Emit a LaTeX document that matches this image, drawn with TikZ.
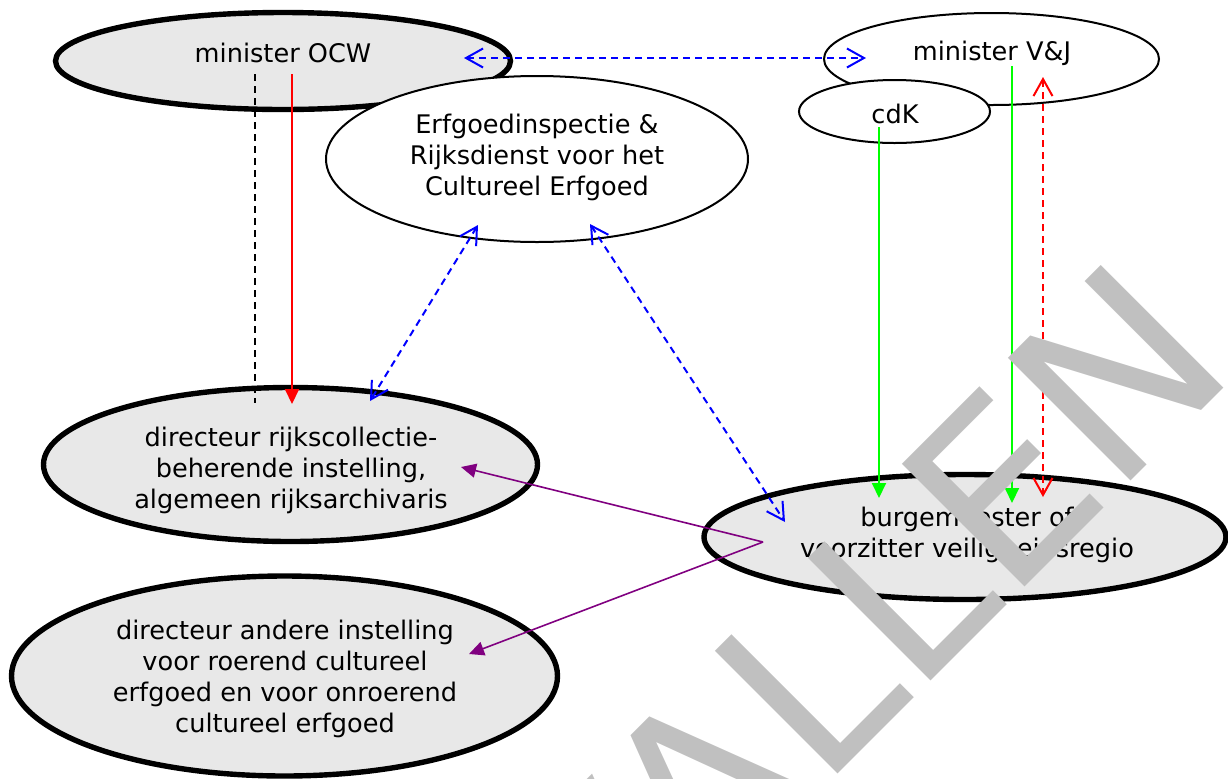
\documentclass[tikz,border=0pt]{standalone}
\usepackage{fontspec}
\setmainfont{DejaVu Sans}
\usetikzlibrary{arrows.meta,shapes.geometric}
\definecolor{ovalgrey}{RGB}{232,232,232}
\definecolor{stampgrey}{RGB}{192,192,192}
\definecolor{linkpurple}{RGB}{128,0,128}

\begin{document}
\begin{tikzpicture}[x=0.5pt,y=-0.5pt,
    oval/.style={ellipse,draw,inner sep=0pt},
    thickoval/.style={oval,line width=2.7pt,fill=ovalgrey},
    thinoval/.style={oval,line width=1pt,fill=white},
    lbl/.style={align=center,inner sep=0pt,font=\fontsize{12.8}{15.5}\selectfont},
    dashy/.style={dash pattern=on 3.5pt off 2.5pt},
    twoway/.style={{Straight Barb[length=8.5pt,width=9.5pt]}-{Straight Barb[length=8.5pt,width=9.5pt]},line width=1pt,dashy},
    oneway/.style={-{Triangle[length=7.5pt,width=7pt]},line width=1pt}]

      \useasboundingbox (0,0) rectangle (1228,778);

      \node[thickoval,minimum width=227.5pt,minimum height=48.5pt] (ocw) at (283,61) {};
      \node[thinoval,minimum width=211pt,minimum height=83pt] (erfgoed) at (537,159) {};
      \node[thinoval,minimum width=167.5pt,minimum height=46pt] (vj) at (991.5,59) {};
      \node[thinoval,minimum width=95.5pt,minimum height=31.5pt] (cdk) at (894.5,111.5) {};
      \node[thickoval,minimum width=247pt,minimum height=77pt] (rijks) at (290.5,464.5) {};
      \node[thickoval,minimum width=261pt,minimum height=62.5pt] (burg) at (965,537) {};
      \node[thickoval,minimum width=273pt,minimum height=100pt] (andere) at (284.5,676) {};

      \node[lbl] (ocwtext) at (283,52.5) {minister OCW};
      \node[lbl] (vjtext) at (992,53) {minister V\&J};
      \node[lbl] (cdktext) at (895,113.5) {cdK};
      \node[lbl] (erfgoedtext) at (537,157) {Erfgoedinspectie \&\\Rijksdienst voor het\\Cultureel Erfgoed};
      \node[lbl] (rijkstext) at (291,470) {directeur rijkscollectie-\\beherende instelling,\\algemeen rijksarchivaris};
      \node[lbl] (burgtext) at (967,534.5) {burgemeester of\\voorzitter veiligheidsregio};
      \node[lbl] (anderetext) at (285,678.5) {directeur andere instelling\\voor roerend cultureel\\erfgoed en voor onroerend\\cultureel erfgoed};

      \coordinate (ocw-r) at (464,58);
      \coordinate (vj-l) at (866,58);
      \coordinate (ocw-a) at (255,74);
      \coordinate (rijks-a) at (255,403);
      \coordinate (ocw-b) at (292,74);
      \coordinate (rijks-b) at (292,404);
      \coordinate (erfgoed-a) at (478,225);
      \coordinate (rijks-c) at (370,401);
      \coordinate (erfgoed-b) at (590,224);
      \coordinate (burg-a) at (785,522);
      \coordinate (cdk-a) at (879,127);
      \coordinate (burg-b) at (879,498);
      \coordinate (vj-a) at (1012,66);
      \coordinate (burg-c) at (1012,503);
      \coordinate (vj-b) at (1043,77);
      \coordinate (burg-d) at (1043,497);
      \coordinate (burg-e) at (763,542);
      \coordinate (rijks-d) at (461,467);
      \coordinate (andere-a) at (469,654);

      \draw[twoway,blue] (ocw-r) -- (vj-l);
      \draw[dashy,line width=1pt] (ocw-a) -- (rijks-a);
      \draw[oneway,red] (ocw-b) -- (rijks-b);
      \draw[twoway,blue] (erfgoed-a) -- (rijks-c);
      \draw[twoway,blue] (erfgoed-b) -- (burg-a);
      \draw[oneway,green] (cdk-a) -- (burg-b);
      \draw[oneway,green] (vj-a) -- (burg-c);
      \draw[twoway,red] (vj-b) -- (burg-d);
      \draw[oneway,linkpurple,line width=0.8pt] (burg-e) -- (rijks-d);
      \draw[oneway,linkpurple,line width=0.8pt] (burg-e) -- (andere-a);

      \node[text=stampgrey,rotate=45,anchor=base east,inner sep=0pt,font=\fontsize{119}{119}\selectfont] (stamp) at (1241,371) {VERVALLEN};

    \end{tikzpicture}
\end{document}
